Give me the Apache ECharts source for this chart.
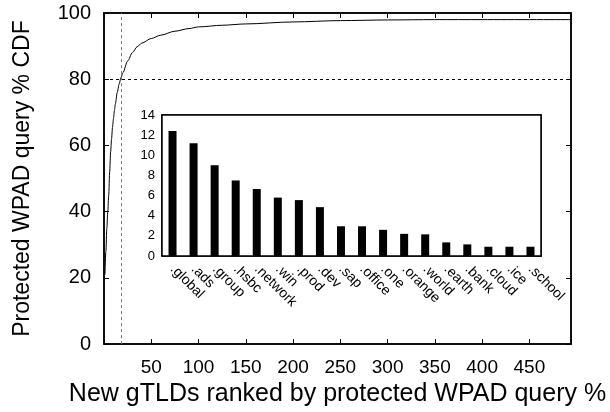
<!DOCTYPE html>
<html><head><meta charset="utf-8">
<script src="https://cdn.jsdelivr.net/npm/echarts@6/dist/echarts.min.js"></script>
<style>html,body{margin:0;padding:0;background:#fff}#c{width:610px;height:412px}</style>
</head><body><div id="c"></div>
<script>
// CDF curve: [rank, cumulative %]
const cdfRanks = [1,2,3,4,5,6,7,8,9,10,11,12,14,16,18,20,25,30,35,40,50,60,75,90,100,125,150,200,250,300,350,400,494];
const cdfValues = [21,28,35,40,45,52,58,62,65.5,68,70.5,72.5,76,78.5,80.5,82,85.5,88,89.8,90.9,92.3,93.3,94.5,95.3,95.8,96.3,96.7,97.3,97.7,97.9,98,98,98];
// Inset bars
const gtlds = ['.global','.ads','.group','.hsbc','.network','.win','.prod','.dev','.sap','.office','.one','.orange','.world','.earth','.bank','.cloud','.ice','.school'];
const shares = [12.4,11.2,9.0,7.5,6.65,5.8,5.55,4.85,2.95,2.95,2.6,2.2,2.15,1.35,1.15,0.92,0.92,0.92];
const xTicks = [50,100,150,200,250,300,350,400,450];
const refRank = 18, refPct = 80;

const FONT = 'Liberation Sans';
const chart = echarts.init(document.getElementById('c'), null, {renderer:'canvas'});
const lineAxis = () => ({show:true, onZero:false, lineStyle:{color:'#000', width:1.5}});
const tickIn = () => ({show:true, inside:true, length:5, lineStyle:{color:'#000', width:1}});
const tickSmall = () => ({show:true, inside:true, length:4, lineStyle:{color:'#000', width:1}});
chart.setOption({
  animation:false,
  textStyle:{fontFamily:FONT},
  grid:[
    {left:104, right:39, top:13, bottom:67, show:true, borderColor:'#000', borderWidth:1.5, backgroundColor:'transparent'},
    {left:162, right:69, top:115, bottom:156, z:5, show:true, backgroundColor:'#fff', borderColor:'#000', borderWidth:1.5}
  ],
  xAxis:[
    {gridIndex:0, type:'value', min:0, max:494, interval:50, position:'bottom',
     name:'New gTLDs ranked by protected WPAD query %', nameLocation:'middle', nameGap:33,
     nameTextStyle:{fontSize:25, color:'#000', fontFamily:FONT},
     axisLine:lineAxis(), axisTick:tickIn(), splitLine:{show:false},
     axisLabel:{fontSize:19, color:'#000', margin:14, formatter:v=> xTicks.includes(v)? String(v):''}},
    {gridIndex:0, type:'value', min:0, max:494, interval:50, position:'top',
     axisLine:lineAxis(), axisTick:tickIn(), splitLine:{show:false}, axisLabel:{show:false}},
    {gridIndex:1, type:'category', data:gtlds, position:'bottom',
     axisLine:lineAxis(), axisTick:{show:false},
     axisLabel:{rotate:-45, fontSize:14, color:'#000', margin:11, interval:0}},
    {gridIndex:1, type:'category', data:gtlds, position:'top',
     axisLine:lineAxis(), axisTick:{show:true, inside:true, alignWithLabel:true, length:4, interval:0, lineStyle:{color:'#000'}},
     axisLabel:{show:false}}
  ],
  yAxis:[
    {gridIndex:0, type:'value', min:0, max:100, interval:20, position:'left',
     name:'Protected WPAD query % CDF', nameLocation:'middle', nameGap:70,
     nameTextStyle:{fontSize:23, color:'#000', fontFamily:FONT},
     axisLine:lineAxis(), axisTick:tickIn(), splitLine:{show:false},
     axisLabel:{fontSize:20, color:'#000', margin:13}},
    {gridIndex:0, type:'value', min:0, max:100, interval:20, position:'right',
     axisLine:lineAxis(), axisTick:tickIn(), splitLine:{show:false}, axisLabel:{show:false}},
    {gridIndex:1, type:'value', min:0, max:14, interval:2, position:'left',
     axisLine:lineAxis(), axisTick:tickSmall(), splitLine:{show:false},
     axisLabel:{fontSize:13, color:'#000', margin:7}},
    {gridIndex:1, type:'value', min:0, max:14, interval:2, position:'right',
     axisLine:lineAxis(), axisTick:tickSmall(), splitLine:{show:false},
     axisLabel:{show:false}}
  ],
  series:[
    {type:'line', xAxisIndex:0, yAxisIndex:0, data:cdfRanks.map((r,i)=>[r,cdfValues[i]]),
     showSymbol:false, smooth:0.3, smoothMonotone:'x', lineStyle:{color:'#000', width:1}, z:2,
     markLine:{silent:true, symbol:'none', label:{show:false},
       data:[
         {xAxis:refRank, lineStyle:{color:'#777', type:[3,3], width:1}},
         {yAxis:refPct, lineStyle:{color:'#000', type:[3,3], width:1}}
       ]}},
    {type:'bar', xAxisIndex:2, yAxisIndex:2, data:shares, barWidth:8,
     itemStyle:{color:'#000'}, z:6}
  ]
});
</script></body></html>
